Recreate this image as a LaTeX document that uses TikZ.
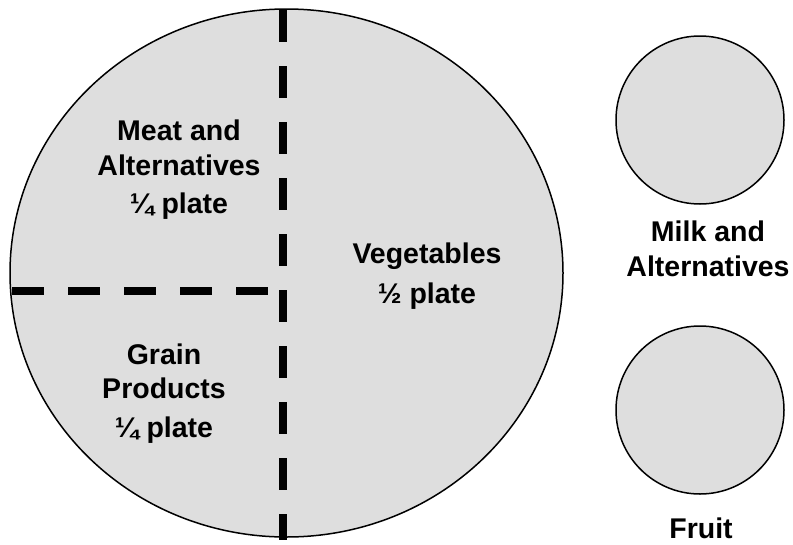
\documentclass[tikz,border=0pt]{standalone}
\usepackage{fontspec}
\setmainfont{Liberation Sans}
\definecolor{platefill}{gray}{0.87}
\tikzset{
  plate/.style={draw=black, line width=1.5pt, fill=platefill},
  divider/.style={line width=7.5pt, dash pattern=on 32pt off 24pt, line cap=butt},
  label/.style={font=\fontsize{28.5}{34.5}\selectfont\bfseries, align=center, anchor=base, inner sep=0pt}
}
\begin{document}
\begin{tikzpicture}[x=1pt,y=-1pt]
\useasboundingbox (0,0) rectangle (793,544);
% plates
\draw[plate] (286.5,273) ellipse [x radius=276.5, y radius=264];
\draw[plate] (700,120) circle [radius=84];
\draw[plate] (700,410) circle [radius=84];
% dividers
\coordinate (vtop) at (283,10);
\coordinate (vbot) at (283,540);
\coordinate (hl) at (12,291);
\coordinate (hr) at (268,291);
\draw[divider] (vtop) -- (vbot);
\draw[divider] (hl) -- (hr);
% labels (anchor base = baseline of last line)
\node[label] (meat) at (179,213) {Meat and\\Alternatives\\[3.5pt]¼ plate};
\node[label] (grain) at (164,437) {Grain\\Products\\[4pt]¼ plate};
\node[label] (veg) at (427,303) {Vegetables\\[5.5pt]½ plate};
\node[label] (milk) at (708,276) {Milk and\\Alternatives};
\node[label] (fruit) at (701,538) {Fruit};
\end{tikzpicture}
\end{document}
